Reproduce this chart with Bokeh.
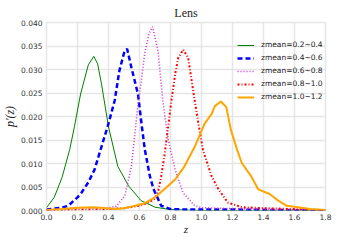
from bokeh.plotting import figure
from bokeh.models import FixedTicker, PrintfTickFormatter, Legend, LegendItem, Range1d
from bokeh.embed import file_html
from bokeh.resources import INLINE

# --- data ---
labels = ["zmean=0.2~0.4", "zmean=0.4~0.6", "zmean=0.6~0.8", "zmean=0.8~1.0", "zmean=1.0~1.2"]

gz = [0.0, 0.05, 0.1, 0.15, 0.18, 0.22, 0.27, 0.305, 0.33, 0.355, 0.4, 0.46, 0.53, 0.61, 0.7, 0.8, 0.9, 1.0, 1.2, 1.5, 1.8]
gp = [0.0006, 0.0028, 0.0070, 0.0130, 0.0178, 0.0248, 0.0310, 0.0328, 0.0312, 0.0269, 0.0178, 0.0094, 0.0052, 0.0021, 0.0007, 0.0002, 0.0001, 0.0, 0.0, 0.0, 0.0]

bz = [0.0, 0.1, 0.14, 0.2, 0.226, 0.27, 0.31, 0.355, 0.4, 0.44, 0.47, 0.5, 0.52, 0.548, 0.59, 0.613, 0.634, 0.667, 0.69, 0.74, 0.8, 0.9, 1.0, 1.2, 1.5, 1.8]
bp = [0.0002, 0.0006, 0.0010, 0.0028, 0.0038, 0.0060, 0.0087, 0.0136, 0.0185, 0.0234, 0.0297, 0.0335, 0.0344, 0.0304, 0.0248, 0.0185, 0.0130, 0.0073, 0.0046, 0.0010, 0.0003, 0.0002, 0.0002, 0.0002, 0.0001, 0.0]

mz = [0.0, 0.1, 0.2, 0.3, 0.4, 0.45, 0.505, 0.548, 0.59, 0.613, 0.634, 0.66, 0.684, 0.72, 0.75, 0.785, 0.83, 0.88, 0.957, 1.0, 1.2, 1.5, 1.8]
mp = [0.0001, 0.0003, 0.0006, 0.0006, 0.0006, 0.0009, 0.0031, 0.0094, 0.0225, 0.0280, 0.0335, 0.0375, 0.0391, 0.0339, 0.0234, 0.0151, 0.0087, 0.0038, 0.0010, 0.0006, 0.0004, 0.0002, 0.0001]

rz = [0.0, 0.2, 0.4, 0.5, 0.6, 0.65, 0.7, 0.72, 0.74, 0.76, 0.785, 0.806, 0.83, 0.85, 0.882, 0.914, 0.946, 0.98, 1.01, 1.065, 1.11, 1.17, 1.26, 1.4, 1.6, 1.8]
rp = [0.0, 0.0002, 0.0003, 0.0005, 0.0010, 0.0016, 0.0025, 0.0040, 0.0073, 0.0115, 0.0178, 0.0234, 0.0290, 0.0325, 0.0342, 0.0325, 0.0255, 0.0185, 0.0128, 0.0073, 0.0045, 0.0017, 0.0007, 0.0005, 0.0003, 0.0001]

oz = [0.0, 0.1, 0.2, 0.3, 0.35, 0.45, 0.5, 0.57, 0.63, 0.7, 0.76, 0.83, 0.89, 0.957, 1.02, 1.065, 1.086, 1.125, 1.16, 1.19, 1.23, 1.26, 1.32, 1.366, 1.44, 1.495, 1.55, 1.645, 1.7, 1.8]
op = [0.0001, 0.0003, 0.0006, 0.0007, 0.0006, 0.0003, 0.0005, 0.0010, 0.0015, 0.0028, 0.0045, 0.0066, 0.0094, 0.0136, 0.0185, 0.0205, 0.0222, 0.0232, 0.0220, 0.0171, 0.0129, 0.0101, 0.0073, 0.0045, 0.0035, 0.0021, 0.0010, 0.0006, 0.0003, 0.0001]

x_ticks = [0.0, 0.2, 0.4, 0.6, 0.8, 1.0, 1.2, 1.4, 1.6, 1.8]
y_ticks = [0.000, 0.005, 0.010, 0.015, 0.020, 0.025, 0.030, 0.035, 0.040]

p = figure(frame_width=279, frame_height=188, output_backend="svg", toolbar_location=None,
           x_range=Range1d(0, 1.8), y_range=Range1d(0, 0.04),
           min_border_left=37, min_border_right=20, min_border_top=16, min_border_bottom=21,
           title="Lens")
p.title.align = "center"
p.title.text_font = "Liberation Serif"
p.title.text_font_size = "12px"
p.title.text_font_style = "normal"
p.title.text_color = "#222222"
p.title.standoff = 6
p.title.offset = 0

p.background_fill_color = "white"
p.border_fill_color = "white"
p.outline_line_color = "#e6e6e6"
p.outline_line_width = 1.5

for ax in (p.xaxis[0], p.yaxis[0]):
    ax.axis_line_color = None
    ax.major_tick_line_color = None
    ax.minor_tick_line_color = None
    ax.major_tick_out = 0
    ax.major_tick_in = 0
    ax.minor_tick_out = 0
    ax.minor_tick_in = 0
    ax.major_label_text_font = "DejaVu Sans"
    ax.major_label_text_font_size = "7.5px"
    ax.major_label_text_color = "#333333"
    ax.axis_label_text_font = "Liberation Serif"
    ax.axis_label_text_font_style = "italic"
    ax.axis_label_text_font_size = "11px"
    ax.axis_label_text_color = "#222222"
p.yaxis.axis_label_text_font_size = "12px"

p.xaxis.ticker = FixedTicker(ticks=x_ticks)
p.yaxis.ticker = FixedTicker(ticks=y_ticks)
p.xaxis.formatter = PrintfTickFormatter(format="%.1f")
p.yaxis.formatter = PrintfTickFormatter(format="%.3f")
p.xaxis.axis_label = "z"
p.yaxis.axis_label = "p'(z)"
p.xaxis.major_label_standoff = 3
p.xaxis.axis_label_standoff = 0
p.yaxis.major_label_standoff = 4
p.yaxis.axis_label_standoff = 1

p.xgrid.grid_line_color = "#e6e6e6"
p.ygrid.grid_line_color = "#e6e6e6"
p.xgrid.grid_line_width = 1.5
p.ygrid.grid_line_width = 1.5

r1 = p.line(gz, gp, line_color="green", line_width=1)
r2 = p.line(bz, bp, line_color="blue", line_width=2.5, line_dash="5 3")
r3 = p.line(mz, mp, line_color="#cc33cc", line_width=1.6, line_dash="1 2")
r4 = p.line(rz, rp, line_color="red", line_width=2, line_dash="2 2 1 2")
r5 = p.line(oz, op, line_color="orange", line_width=2)

legend = Legend(items=[LegendItem(label=l, renderers=[r]) for l, r in zip(labels, [r1, r2, r3, r4, r5])],
                location=(191, 109))
legend.label_text_font = "DejaVu Sans"
legend.label_text_font_size = "7.5px"
legend.label_text_color = "#222222"
legend.glyph_width = 17
legend.glyph_height = 8
legend.label_height = 8
legend.label_standoff = 7
legend.spacing = 4
legend.padding = 4
legend.margin = 0
legend.border_line_color = None
legend.background_fill_alpha = 0
p.add_layout(legend)

open("out.html", "w").write(file_html(p, INLINE))
